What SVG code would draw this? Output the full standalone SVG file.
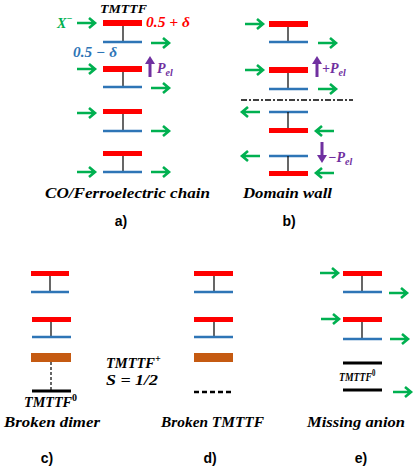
<svg xmlns="http://www.w3.org/2000/svg" width="416" height="469" viewBox="0 0 416 469">
<style>
.bg{fill:#fff}
.red{fill:#ff0000}
.brown{fill:#c55a11}
.blue{stroke:#2e75b6;stroke-width:2.5;fill:none}
.stem{stroke:#000;stroke-width:1.2}
.dstem{stroke:#000;stroke-width:1.2;stroke-dasharray:3 2}
.blk{stroke:#000;stroke-width:3}
.ga{stroke:#00b050;stroke-width:2.6;fill:none;stroke-linejoin:miter;stroke-linecap:butt}
.pa{fill:#7030a0}
.t{font-family:"Liberation Serif","DejaVu Serif",serif;font-weight:bold;font-style:italic}
.cap{font-family:"Liberation Sans","Open Sans",sans-serif;font-size:14px;font-weight:bold;fill:#000}
</style>
<rect class="bg" width="416" height="469"/>

<!-- Panel a -->
<g id="a-dimer1"><rect class="red" x="103" y="20" width="39" height="6"/><line class="stem" x1="123" y1="26" x2="123" y2="42"/><line class="blue" x1="103" y1="42" x2="142" y2="42"/></g>
<g id="a-dimer2"><rect class="red" x="103" y="66" width="39" height="6"/><line class="stem" x1="123" y1="72" x2="123" y2="87"/><line class="blue" x1="103" y1="87" x2="142" y2="87"/></g>
<g id="a-dimer3"><rect class="red" x="103" y="109" width="39" height="5"/><line class="stem" x1="123" y1="114" x2="123" y2="131"/><line class="blue" x1="103" y1="131" x2="142" y2="131"/></g>
<g id="a-dimer4"><rect class="red" x="103" y="151" width="39" height="5"/><line class="stem" x1="123" y1="156" x2="123" y2="172"/><line class="blue" x1="103" y1="172" x2="142" y2="172"/></g>
<g id="a-texts">
<text class="t" x="100" y="13" font-size="13.5" textLength="47" lengthAdjust="spacingAndGlyphs">TMTTF</text>
<text class="t" x="57" y="28" font-size="14" fill="#00b050">X<tspan dy="-6" font-size="10">−</tspan></text>
<text class="t" x="146" y="27" font-size="14" fill="#ff0000" textLength="44" lengthAdjust="spacingAndGlyphs">0.5 + δ</text>
<text class="t" x="73" y="57" font-size="14" fill="#2e75b6" textLength="44" lengthAdjust="spacingAndGlyphs">0.5 − δ</text>
<text class="t" x="157" y="73" font-size="14" fill="#7030a0">P<tspan dy="3" font-size="10">el</tspan></text>
<text class="t" x="45" y="198" font-size="14" textLength="165" lengthAdjust="spacingAndGlyphs">CO/Ferroelectric chain</text>
</g>

<!-- Panel b -->
<g id="b-dimer1"><rect class="red" x="269" y="21" width="39" height="6"/><line class="stem" x1="288" y1="27" x2="288" y2="42"/><line class="blue" x1="269" y1="42" x2="308" y2="42"/></g>
<g id="b-dimer2"><rect class="red" x="269" y="67" width="39" height="6"/><line class="stem" x1="288" y1="73" x2="288" y2="89"/><line class="blue" x1="269" y1="89" x2="308" y2="89"/></g>
<g id="b-dimer3"><line class="blue" x1="269" y1="112" x2="308" y2="112"/><line class="stem" x1="288" y1="112" x2="288" y2="128"/><rect class="red" x="269" y="128" width="39" height="5"/></g>
<g id="b-dimer4"><line class="blue" x1="269" y1="156" x2="308" y2="156"/><line class="stem" x1="288" y1="156" x2="288" y2="171"/><rect class="red" x="269" y="171" width="39" height="5"/></g>
<g id="b-wall"><line x1="241" y1="100" x2="353" y2="100" stroke="#000" stroke-width="1.3" stroke-dasharray="6 2 2 2"/></g>
<g id="b-texts">
<text class="t" x="322" y="73" font-size="14" fill="#7030a0">+P<tspan dy="3" font-size="10">el</tspan></text>
<text class="t" x="328" y="162" font-size="14" fill="#7030a0">−P<tspan dy="3" font-size="10">el</tspan></text>
<text class="t" x="243" y="198" font-size="14" textLength="89" lengthAdjust="spacingAndGlyphs">Domain wall</text>
</g>

<!-- Panel c -->
<g id="c-dimer1"><rect class="red" x="31" y="271" width="38" height="5"/><line class="stem" x1="50" y1="276" x2="50" y2="292"/><line class="blue" x1="31" y1="292" x2="69" y2="292"/></g>
<g id="c-dimer2"><rect class="red" x="32" y="317" width="39" height="5"/><line class="stem" x1="51" y1="322" x2="51" y2="337"/><line class="blue" x1="32" y1="337" x2="71" y2="337"/></g>
<g id="c-broken"><rect class="brown" x="31" y="353" width="40" height="9"/><line class="dstem" x1="51" y1="362" x2="51" y2="390"/><line class="blk" x1="32" y1="391" x2="71" y2="391"/></g>
<g id="c-texts">
<text class="t" x="24" y="407" font-size="14"><tspan textLength="48" lengthAdjust="spacingAndGlyphs">TMTTF</tspan><tspan dy="-6" font-size="10" font-style="normal">0</tspan></text>
<text class="t" x="4" y="427" font-size="14" textLength="96" lengthAdjust="spacingAndGlyphs">Broken dimer</text>
<text class="t" x="106" y="368" font-size="14"><tspan textLength="49" lengthAdjust="spacingAndGlyphs">TMTTF</tspan><tspan dy="-6" font-size="10">+</tspan></text>
<text class="t" x="106" y="385" font-size="14" textLength="52" lengthAdjust="spacingAndGlyphs">S = 1/2</text>
</g>

<!-- Panel d -->
<g id="d-dimer1"><rect class="red" x="194" y="271" width="39" height="5"/><line class="stem" x1="214" y1="276" x2="214" y2="292"/><line class="blue" x1="194" y1="292" x2="233" y2="292"/></g>
<g id="d-dimer2"><rect class="red" x="194" y="317" width="39" height="5"/><line class="stem" x1="214" y1="322" x2="214" y2="337"/><line class="blue" x1="194" y1="337" x2="233" y2="337"/></g>
<g id="d-broken"><rect class="brown" x="194" y="353" width="39" height="9"/><line x1="194" y1="392" x2="233" y2="392" stroke="#000" stroke-width="2.5" stroke-dasharray="5 3"/></g>
<g id="d-texts">
<text class="t" x="161" y="427" font-size="14" textLength="103" lengthAdjust="spacingAndGlyphs">Broken TMTTF</text>
</g>

<!-- Panel e -->
<g id="e-dimer1"><rect class="red" x="343" y="271" width="39" height="5"/><line class="stem" x1="362" y1="276" x2="362" y2="292"/><line class="blue" x1="343" y1="292" x2="382" y2="292"/></g>
<g id="e-dimer2"><rect class="red" x="343" y="317" width="39" height="5"/><line class="stem" x1="362" y1="322" x2="362" y2="339"/><line class="blue" x1="343" y1="339" x2="382" y2="339"/></g>
<g id="e-neutral"><line class="blk" x1="343" y1="363" x2="382" y2="363"/><line class="blk" x1="343" y1="390" x2="382" y2="390"/></g>
<g id="e-texts">
<text class="t" transform="translate(339,381) scale(0.72,1)" x="0" y="0" font-size="13.5">TMTTF<tspan dy="-5" font-size="9.5" font-style="normal">0</tspan></text>
<text class="t" x="307" y="427" font-size="14" textLength="98" lengthAdjust="spacingAndGlyphs">Missing anion</text>
</g>

<!-- captions -->
<g id="captions">
<text class="cap" x="121" y="226" text-anchor="middle">a)</text>
<text class="cap" x="289" y="226" text-anchor="middle">b)</text>
<text class="cap" x="47" y="463" text-anchor="middle">c)</text>
<text class="cap" x="210" y="463" text-anchor="middle">d)</text>
<text class="cap" x="361" y="463" text-anchor="middle">e)</text>
</g>

<!-- connectors: anion arrows and polarization arrows -->
<g id="connectors">
<!-- panel a -->
<path class="ga" d="M77 23H95M89 18L95 23L89 28"/>
<path class="ga" d="M151 43H169M163 38L169 43L163 48"/>
<path class="ga" d="M77 69H95M89 64L95 69L89 74"/>
<path class="ga" d="M151 88H169M163 83L169 88L163 93"/>
<path class="ga" d="M77 113H95M89 108L95 113L89 118"/>
<path class="ga" d="M151 131H169M163 126L169 131L163 136"/>
<path class="ga" d="M77 172H95M89 167L95 172L89 177"/>
<path class="ga" d="M151 172H169M163 167L169 172L163 177"/>
<!-- panel b -->
<path class="ga" d="M245 24H263M257 19L263 24L257 29"/>
<path class="ga" d="M318 43H336M330 38L336 43L330 48"/>
<path class="ga" d="M245 70H263M257 65L263 70L257 75"/>
<path class="ga" d="M318 89H336M330 84L336 89L330 94"/>
<path class="ga" d="M260 112H242M248 107L242 112L248 117"/>
<path class="ga" d="M334 131H316M322 126L316 131L322 136"/>
<path class="ga" d="M260 156H242M248 151L242 156L248 161"/>
<path class="ga" d="M334 173H316M322 168L316 173L322 178"/>
<!-- panel e -->
<path class="ga" d="M320 273H338M332 268L338 273L332 278"/>
<path class="ga" d="M389 293H407M401 288L407 293L401 298"/>
<path class="ga" d="M321 319H339M333 314L339 319L333 324"/>
<path class="ga" d="M390 339H408M402 334L408 339L402 344"/>
<path class="ga" d="M393 392H411M405 387L411 392L405 397"/>
<!-- polarization -->
<path class="pa" d="M148.5 77V64H145L150 56L155 64H151.5V77Z"/>
<path class="pa" d="M315.5 77V64H312L317 56L322 64H318.5V77Z"/>
<path class="pa" d="M320.5 142V155H317L322 163L327 155H323.5V142Z"/>
</g>
</svg>
